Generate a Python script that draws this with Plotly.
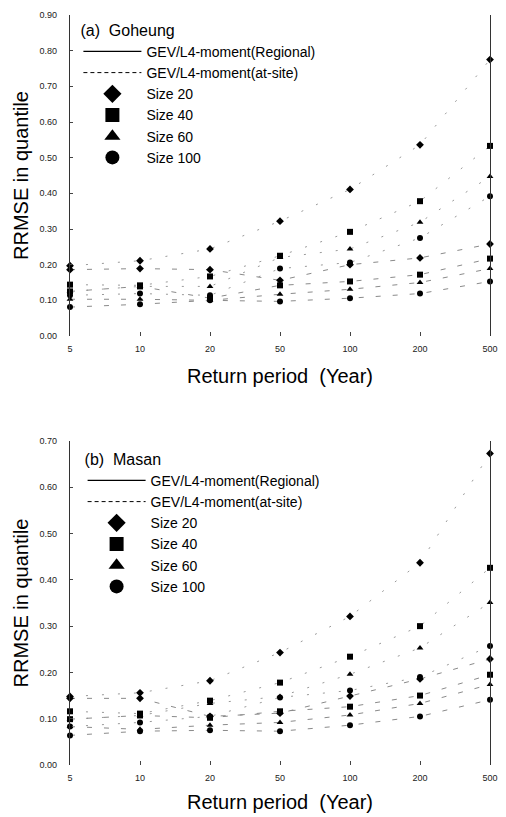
import plotly.graph_objects as go
from plotly.subplots import make_subplots

return_periods = ["5", "10", "20", "50", "100", "200", "500"]
size_labels = ["Size 20", "Size 40", "Size 60", "Size 100"]
symbols = ["diamond", "square", "triangle-up", "circle"]

# (a) Goheung
goheung_atsite_20 = [0.197, 0.211, 0.244, 0.322, 0.411, 0.536, 0.775]
goheung_atsite_40 = [0.144, 0.142, 0.167, 0.225, 0.292, 0.378, 0.533]
goheung_atsite_60 = [0.125, 0.139, 0.139, 0.220, 0.244, 0.319, 0.447]
goheung_atsite_100 = [0.114, 0.119, 0.114, 0.189, 0.206, 0.275, 0.392]
goheung_regional_20 = [0.186, 0.189, 0.186, 0.156, 0.200, 0.219, 0.258]
goheung_regional_40 = [0.125, 0.139, 0.106, 0.142, 0.153, 0.172, 0.217]
goheung_regional_60 = [0.103, 0.103, 0.100, 0.117, 0.131, 0.150, 0.189]
goheung_regional_100 = [0.081, 0.089, 0.100, 0.097, 0.106, 0.119, 0.153]

# (b) Masan
masan_atsite_20 = [0.148, 0.156, 0.182, 0.243, 0.321, 0.437, 0.673]
masan_atsite_40 = [0.116, 0.111, 0.139, 0.178, 0.234, 0.300, 0.426]
masan_atsite_60 = [0.099, 0.107, 0.133, 0.148, 0.196, 0.253, 0.351]
masan_atsite_100 = [0.083, 0.092, 0.105, 0.146, 0.161, 0.190, 0.257]
masan_regional_20 = [0.144, 0.144, 0.105, 0.112, 0.149, 0.186, 0.229]
masan_regional_40 = [0.099, 0.107, 0.102, 0.116, 0.126, 0.150, 0.195]
masan_regional_60 = [0.083, 0.077, 0.086, 0.092, 0.108, 0.133, 0.174]
masan_regional_100 = [0.064, 0.073, 0.075, 0.073, 0.086, 0.105, 0.141]

panels = [
    ("(a)  Goheung",
     [goheung_atsite_20, goheung_atsite_40, goheung_atsite_60, goheung_atsite_100],
     [goheung_regional_20, goheung_regional_40, goheung_regional_60, goheung_regional_100],
     0.9, "legend"),
    ("(b)  Masan",
     [masan_atsite_20, masan_atsite_40, masan_atsite_60, masan_atsite_100],
     [masan_regional_20, masan_regional_40, masan_regional_60, masan_regional_100],
     0.7, "legend2"),
]

FONT = "Liberation Sans, Arial, sans-serif"
fig = make_subplots(rows=2, cols=1)

for i, (title, atsite, regional, ymax, leg) in enumerate(panels):
    row = i + 1
    for vals, sym in zip(atsite, symbols):
        fig.add_trace(go.Scatter(
            x=return_periods, y=vals, mode="lines+markers",
            line=dict(color="#9a9a9a", width=1, dash="2px,14px"),
            marker=dict(symbol=sym, size=6, color="black"),
            cliponaxis=False, showlegend=False), row=row, col=1)
    for vals, sym in zip(regional, symbols):
        fig.add_trace(go.Scatter(
            x=return_periods, y=vals, mode="lines+markers",
            line=dict(color="#8a8a8a", width=1, dash="5px,12px"),
            marker=dict(symbol=sym, size=6, color="black"),
            cliponaxis=False, showlegend=False), row=row, col=1)
    # legend entries
    fig.add_trace(go.Scatter(x=[None], y=[None], mode="lines",
                             line=dict(color="black", width=1.2),
                             name="GEV/L4-moment(Regional)", legend=leg), row=row, col=1)
    fig.add_trace(go.Scatter(x=[None], y=[None], mode="lines",
                             line=dict(color="black", width=1, dash="4px,3px"),
                             name="GEV/L4-moment(at-site)", legend=leg), row=row, col=1)
    for lab, sym in zip(size_labels, symbols):
        fig.add_trace(go.Scatter(x=[None], y=[None], mode="markers",
                                 marker=dict(symbol=sym, size=14, color="black"),
                                 name=lab, legend=leg), row=row, col=1)

axis_common_x = dict(
    type="category", range=[0, 6], showgrid=False, zeroline=False, showline=False,
    ticks="inside", ticklen=4, tickcolor="#444", tickfont=dict(size=9, color="#222", family=FONT),
    ticklabelstandoff=6,
)
axis_common_y = dict(
    showgrid=False, zeroline=False, showline=True, linecolor="#333", linewidth=1.2, mirror=True,
    ticks="inside", ticklen=3, tickcolor="#444", dtick=0.1, tickformat=".2f",
    tickfont=dict(size=9, color="#222", family=FONT), ticklabelstandoff=10,
)

fig.update_layout(
    width=506, height=817,
    margin=dict(l=70, r=8, t=15, b=45),
    paper_bgcolor="white", plot_bgcolor="white",
    font=dict(family=FONT, color="black"),
    xaxis=dict(**axis_common_x, title=dict(text="Return period  (Year)", font=dict(size=20), standoff=15)),
    xaxis2=dict(**axis_common_x, title=dict(text="Return period  (Year)", font=dict(size=20), standoff=12)),
    yaxis=dict(**axis_common_y, domain=[0.572, 1.0], range=[0, 0.9],
               title=dict(text="RRMSE in quantile", font=dict(size=20), standoff=5)),
    yaxis2=dict(**axis_common_y, domain=[0.0, 0.432], range=[0, 0.7],
                title=dict(text="RRMSE in quantile", font=dict(size=20), standoff=5)),
    legend=dict(x=0.02, y=1.0, xanchor="left", yanchor="top", bgcolor="rgba(0,0,0,0)",
                font=dict(size=14), itemwidth=58, tracegroupgap=0,
                title=dict(text="(a)  Goheung", font=dict(size=16))),
    legend2=dict(x=0.03, y=0.428, xanchor="left", yanchor="top", bgcolor="rgba(0,0,0,0)",
                 font=dict(size=14), itemwidth=58, tracegroupgap=0,
                 title=dict(text="(b)  Masan", font=dict(size=16))),
)

fig.write_html("out.html", config={"displayModeBar": False},
               post_script="document.body.style.margin='0';document.body.style.overflow='hidden';")
